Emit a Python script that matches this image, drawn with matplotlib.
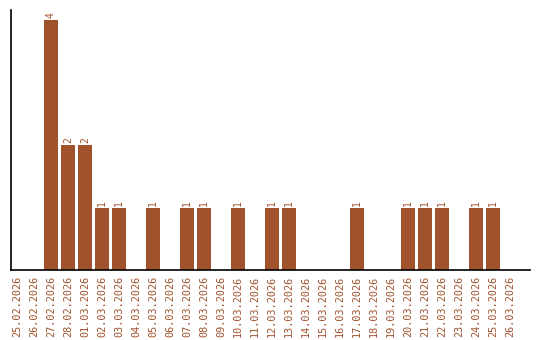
import matplotlib
matplotlib.use("Agg")
import matplotlib.pyplot as plt

dates = ["25.02.2026", "26.02.2026", "27.02.2026", "28.02.2026", "01.03.2026",
         "02.03.2026", "03.03.2026", "04.03.2026", "05.03.2026", "06.03.2026",
         "07.03.2026", "08.03.2026", "09.03.2026", "10.03.2026", "11.03.2026",
         "12.03.2026", "13.03.2026", "14.03.2026", "15.03.2026", "16.03.2026",
         "17.03.2026", "18.03.2026", "19.03.2026", "20.03.2026", "21.03.2026",
         "22.03.2026", "23.03.2026", "24.03.2026", "25.03.2026", "26.03.2026"]
counts = [0, 0, 4, 2, 2, 1, 1, 0, 1, 0,
          1, 1, 0, 1, 0, 1, 1, 0, 0, 0,
          1, 0, 0, 1, 1, 1, 0, 1, 1, 0]

COLOR = "#A0522D"

fig = plt.figure(figsize=(5.4, 3.4), dpi=100)
ax = fig.add_axes([11 / 540, 70 / 340, 519 / 540, 260 / 340])

x = list(range(len(dates)))
bars = ax.bar(x, counts, width=0.82, color=COLOR)

# value labels above non-empty bars
for xi, c in zip(x, counts):
    if c > 0:
        ax.text(xi, c + 0.03, str(c), rotation=90, ha="center", va="bottom",
                color=COLOR, fontsize=7, family="DejaVu Sans Mono")

ax.set_xlim(-0.35, 30.18)
ax.set_ylim(0, 4.16)
ax.set_xticks(x)
ax.set_xticklabels(dates, rotation=90, color=COLOR, fontsize=7.3,
                   family="DejaVu Sans Mono")
ax.tick_params(axis="x", length=0, pad=4)
ax.set_yticks([])
ax.spines["top"].set_visible(False)
ax.spines["right"].set_visible(False)
ax.spines["left"].set_linewidth(1.2)
ax.spines["bottom"].set_linewidth(1.2)

fig.savefig("out.png", dpi=100)
